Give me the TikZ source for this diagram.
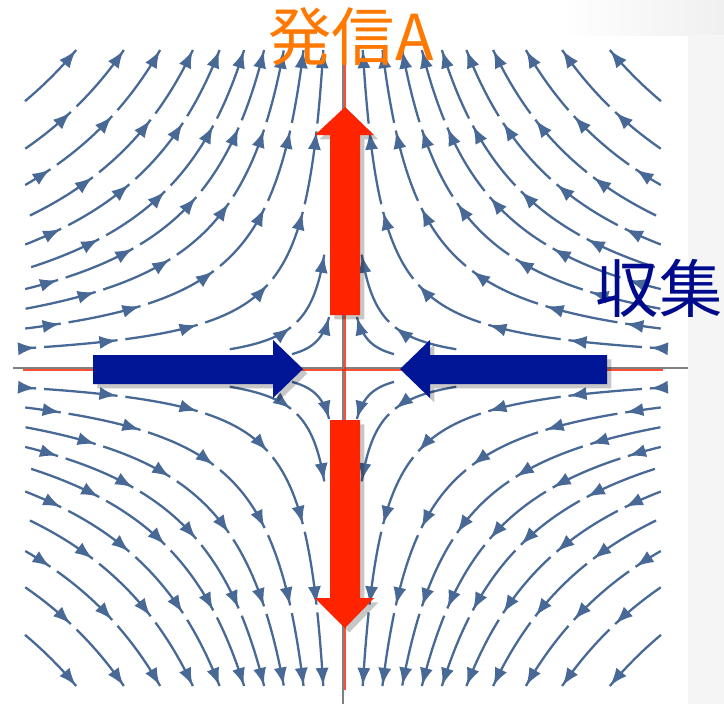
\documentclass[tikz,border=0pt]{standalone}
\usepackage{fontspec}
\newfontfamily\jpfont{Noto Sans CJK JP}
\definecolor{flowblue}{RGB}{72,104,150}
\definecolor{sendred}{RGB}{255,36,0}
\definecolor{collectblue}{RGB}{0,22,150}
\definecolor{sendorange}{RGB}{255,120,0}
\definecolor{labelnavy}{RGB}{0,10,140}
\definecolor{axisgray}{RGB}{128,128,128}
\usetikzlibrary{arrows.meta,decorations.markings,shadows,calc}

\begin{document}
\begin{tikzpicture}[
  x=0.02cm, y=-0.02cm,
  every node/.style={font=\jpfont\fontsize{36}{36}\selectfont, inner sep=0pt},
  % drawn from the outflow end back to the inflow end
  stream/.style={flowblue, line width=1.3pt, dash pattern=on 42pt off 4.5pt,
    postaction={decorate, decoration={markings,
      mark=between positions 0.3pt and 1 step 46.5pt
        with {\arrowreversed{Latex[length=10pt,width=7.5pt]}}}}},
  axisline/.style={axisgray, line width=0.9pt},
  manifold/.style={sendred, line width=1.1pt, opacity=0.8},
  bigarrow/.style={drop shadow={shadow xshift=2.5pt, shadow yshift=-2.5pt,
                                opacity=0.22, fill=black}},
]
  % Page and light gray margin
  \useasboundingbox (0,0) rectangle (724,704);
  \fill[white] (0,0) rectangle (724,704);
  \shade[left color=white, right color=black!6] (560,0) rectangle (724,35);
  \fill[black!4] (688,35) rectangle (724,704);

  \coordinate (o) at (343,368);

  % Streamlines (x' = -x, y' = y)
  \foreach \sx/\sy in {1/1,-1/1,-1/-1,1/-1}{
    \foreach \c in {0.062,0.124,0.186,0.248,0.311,0.388,0.472,0.575,0.689,0.839}{
      \pgfmathsetmacro\smax{-0.5*ln(\c)}
      \draw[stream] plot[domain=-\smax:\smax, samples=60, variable=\t]
        ({343+\sx*318*sqrt(\c)*exp(\t)}, {368-\sy*318*sqrt(\c)*exp(-\t)});
    }
    % short lines near the centre
    \foreach \c/\smax in {0.021/0.9,0.007/0.65}{
      \draw[stream] plot[domain=-\smax:\smax, samples=40, variable=\t]
        ({343+\sx*318*sqrt(\c)*exp(\t)}, {368-\sy*318*sqrt(\c)*exp(-\t)});
    }
  }

  % Axes
  \draw[axisline] (13,368) -- (688,368);
  \draw[axisline] (343,40) -- (343,704);
  \draw[manifold] (23,370) -- (663,370);
  \draw[manifold] (345,50) -- (345,690);

  % Outgoing (red) arrows
  \fill[sendred, bigarrow] (330,315) -- (330,135) -- (315,135) -- (345,107)
    -- (374,135) -- (360,135) -- (360,315) -- cycle;
  \fill[sendred, bigarrow] (330,420) -- (330,598) -- (315,598) -- (345,628)
    -- (374,598) -- (360,598) -- (360,420) -- cycle;

  % Incoming (blue) arrows
  \fill[collectblue, bigarrow] (93,355) -- (273,355) -- (273,340) -- (303,369)
    -- (273,398) -- (273,384) -- (93,384) -- cycle;
  \fill[collectblue, bigarrow] (607,355) -- (430,355) -- (430,340) -- (400,369)
    -- (430,398) -- (430,384) -- (607,384) -- cycle;

  % Labels
  \node[text=sendorange] (send) at (351,37) {発信A};
  \node[text=labelnavy] (collect) at (659,288) {収集};
\end{tikzpicture}
\end{document}
